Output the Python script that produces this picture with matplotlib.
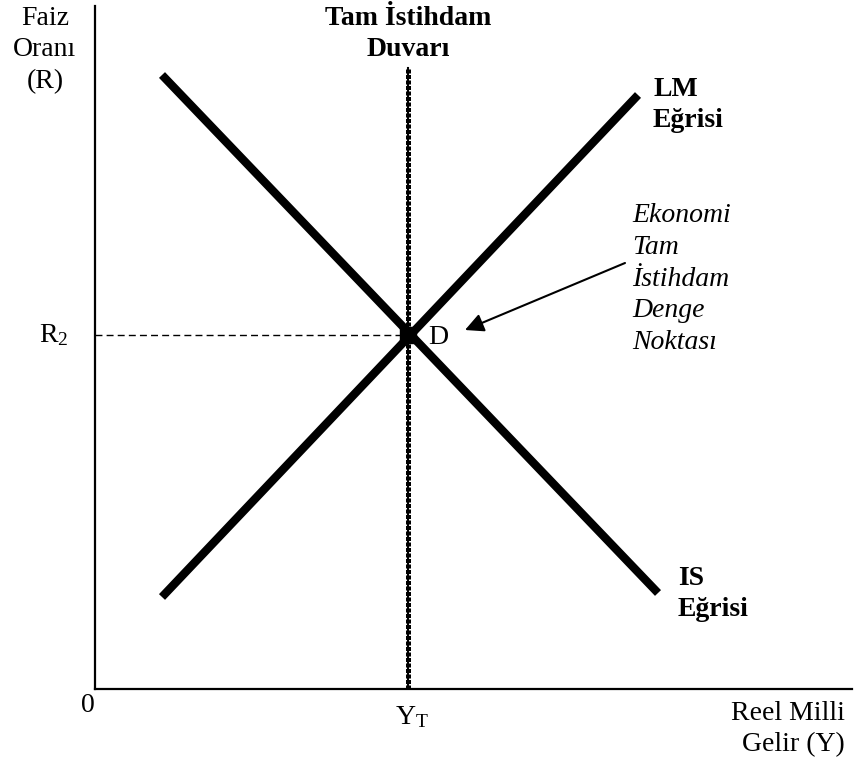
import numpy as np
import matplotlib
matplotlib.use('Agg')
import matplotlib.pyplot as plt

#=== Fonts ===
plt.rcParams['font.family'] = ['Liberation Serif', 'DejaVu Serif']
plt.rcParams['mathtext.fontset'] = 'custom'
plt.rcParams['mathtext.rm'] = 'Liberation Serif'
plt.rcParams['mathtext.it'] = 'Liberation Serif:italic'

#=== Schematic data (units: origin at the axis corner) ===
is_x = [67, 563]
is_y = [614, 96]
lm_x = [67, 543]
lm_y = [92, 594]
y_full = 313      # Y_T, full employment income
r_eq = 354        # R2, equilibrium interest rate
wall_top = 621
arrow_from = (530, 426)
x_max, y_max = 757, 683

fs = 20

#=== Figure ===
fig = plt.figure(figsize=(8.68, 7.59), dpi=100)
ax = fig.add_axes([95 / 868, 70 / 759, 757 / 868, 683 / 759])
ax.set_xlim(0, x_max)
ax.set_ylim(0, y_max)
ax.set_xticks([])
ax.set_yticks([])
for s in ['top', 'right']:
    ax.spines[s].set_visible(False)
for s in ['left', 'bottom']:
    ax.spines[s].set_linewidth(1.6)

#=== Full employment wall ===
ax.plot([y_full, y_full], [0, wall_top], color='black', lw=1.5, zorder=2)
ax.plot([y_full, y_full], [0, wall_top], color='black', lw=3.6,
        linestyle=(0, (0.8, 0.3)), zorder=2)

#=== R2 guide ===
ax.plot([0, y_full], [r_eq, r_eq], color='black', lw=1.0,
        linestyle=(0, (5, 3)), zorder=2)

#=== IS and LM ===
ax.plot(is_x, is_y, color='black', lw=6, solid_capstyle='butt', zorder=3)
ax.plot(lm_x, lm_y, color='black', lw=6, solid_capstyle='butt', zorder=3)
ax.plot([y_full], [r_eq], marker='s', color='black', ms=12, zorder=4)

#=== Arrow ===
ax.annotate('', xy=(y_full + 57, r_eq + 5), xytext=arrow_from,
            arrowprops=dict(arrowstyle='-|>', color='black', lw=1.5,
                            mutation_scale=28, shrinkA=0, shrinkB=0))

#=== Texts ===
kw = dict(fontsize=fs, clip_on=False, linespacing=1.36)
ax.text(-50, 639, 'Faiz\nOranı\n(R)', ha='center', va='center', **kw)
ax.text(y_full, 655, 'Tam İstihdam\nDuvarı', ha='center', va='center',
        fontweight='bold', **kw)
ax.text(558, 584, 'LM\nEğrisi', ha='left', va='center', fontweight='bold', **kw)
ax.text(583, 95, 'IS\nEğrisi', ha='left', va='center', fontweight='bold', **kw)
ax.text(537, 410, 'Ekonomi\nTam\nİstihdam\nDenge\nNoktası', ha='left',
        va='center', style='italic', **kw)
ax.text(333, 351, 'D', ha='left', va='center', **kw)
ax.text(-27, 354, r'R$_\mathrm{2}$', ha='right', va='center', **kw)
ax.text(-7, -16, '0', ha='center', va='center', **kw)
ax.text(y_full + 4, -28, r'Y$_\mathrm{T}$', ha='center', va='center', **kw)
ax.text(750, -40, 'Reel Milli\nGelir (Y)', ha='right', va='center', **kw)

fig.savefig('out.png', dpi=100)
